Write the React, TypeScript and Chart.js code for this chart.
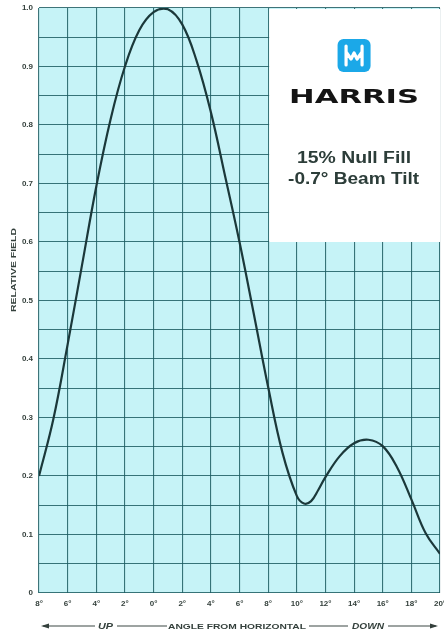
import { useEffect, useRef } from 'react';
import { Chart, registerables } from 'chart.js';

Chart.register(...registerables);

// Angle from horizontal (negative = up, positive = down), degrees
const angles = [-8, -7, -6, -5, -4, -3, -2, -1, 0, 1, 2, 3, 4, 5, 6, 7, 8, 9, 10, 10.5, 11, 11.5, 12, 13, 14, 15, 16, 17, 18, 19, 20];
const relativeField = [0.2, 0.297, 0.425, 0.56, 0.695, 0.81, 0.9, 0.962, 0.993, 0.998, 0.972, 0.91, 0.822, 0.712, 0.6, 0.477, 0.352, 0.24, 0.166, 0.153, 0.157, 0.176, 0.198, 0.234, 0.256, 0.262, 0.251, 0.215, 0.16, 0.102, 0.067];

const xTickValues = [-8, -6, -4, -2, 0, 2, 4, 6, 8, 10, 12, 14, 16, 18, 20];
const xTickLabels = ['8°', '6°', '4°', '2°', '0°', '2°', '4°', '6°', '8°', '10°', '12°', '14°', '16°', '18°', '20°'];
const yTickValues = [0, 0.1, 0.2, 0.3, 0.4, 0.5, 0.6, 0.7, 0.8, 0.9, 1.0];
const yTickLabels = ['0', '0.1', '0.2', '0.3', '0.4', '0.5', '0.6', '0.7', '0.8', '0.9', '1.0'];

const brandName = 'HARRIS';
const captionLines = ['15% Null Fill', '-0.7° Beam Tilt'];
const yTitle = 'RELATIVE FIELD';
const xTitleParts = ['UP', 'ANGLE FROM HORIZONTAL', 'DOWN'];

const PLOT_BG = '#c6f3f7';
const GRID = 'rgba(28, 92, 98, 0.85)';
const TEXT = '#34403c';

function fitText(ctx: CanvasRenderingContext2D, text: string, x: number, y: number, width: number) {
  const w = ctx.measureText(text).width;
  ctx.save();
  ctx.translate(x, y);
  ctx.scale(width / w, 1);
  ctx.textAlign = 'left';
  ctx.fillText(text, 0, 0);
  ctx.restore();
}

const decor = {
  id: 'decor',
  beforeDraw(chart: any) {
    const { ctx, chartArea: a } = chart;
    ctx.save();
    ctx.fillStyle = '#ffffff';
    ctx.fillRect(0, 0, chart.width, chart.height);
    ctx.fillStyle = PLOT_BG;
    ctx.fillRect(a.left, a.top, a.right - a.left, a.bottom - a.top);
    ctx.restore();
  },
  beforeDatasetsDraw(chart: any) {
    const { ctx } = chart;
    const xs = chart.scales.x;
    const ys = chart.scales.y;
    const l = xs.getPixelForValue(8);
    const r = xs.getPixelForValue(20);
    const t = ys.getPixelForValue(1);
    const b = ys.getPixelForValue(0.6);
    ctx.save();
    ctx.fillStyle = '#ffffff';
    ctx.fillRect(l + 1, t + 1, r - l - 1, b - t - 1);
    const cx = (l + r) / 2;

    // logo
    const lt = t + 31;
    const ls = 33;
    ctx.fillStyle = '#1ba8e8';
    ctx.beginPath();
    (ctx as any).roundRect(cx - ls / 2, lt, ls, ls, 6);
    ctx.fill();
    ctx.strokeStyle = '#ffffff';
    ctx.lineWidth = 3.2;
    ctx.lineCap = 'round';
    ctx.lineJoin = 'round';
    ctx.beginPath();
    ctx.moveTo(cx - 8, lt + 7);
    ctx.lineTo(cx - 8, lt + ls - 7);
    ctx.moveTo(cx + 8, lt + 7);
    ctx.lineTo(cx + 8, lt + ls - 7);
    ctx.moveTo(cx - 8, lt + 13);
    ctx.lineTo(cx - 3, lt + 20);
    ctx.lineTo(cx, lt + 14);
    ctx.lineTo(cx + 3, lt + 20);
    ctx.lineTo(cx + 8, lt + 13);
    ctx.stroke();

    // brand
    ctx.fillStyle = '#141414';
    ctx.textBaseline = 'alphabetic';
    ctx.font = '900 19px "DejaVu Sans"';
    fitText(ctx, brandName, cx - 65, t + 95, 130);

    // caption
    ctx.fillStyle = '#2c3d39';
    ctx.font = 'bold 16px "Liberation Sans"';
    fitText(ctx, captionLines[0], cx - 57, t + 155, 114);
    fitText(ctx, captionLines[1], cx - 66, t + 176, 131);
    ctx.restore();
  },
  afterDraw(chart: any) {
    const { ctx } = chart;
    ctx.save();
    ctx.fillStyle = TEXT;
    ctx.strokeStyle = '#3c4844';
    // y title
    ctx.font = 'bold 8px "Liberation Sans"';
    ctx.textBaseline = 'middle';
    ctx.save();
    ctx.translate(14, 312);
    ctx.rotate(-Math.PI / 2);
    fitText(ctx, yTitle, 0, 0, 84);
    ctx.restore();

    // x title
    const yy = 626;
    ctx.lineWidth = 1.2;
    ctx.beginPath();
    ctx.moveTo(43, yy);
    ctx.lineTo(95, yy);
    ctx.moveTo(117, yy);
    ctx.lineTo(167, yy);
    ctx.moveTo(309, yy);
    ctx.lineTo(348, yy);
    ctx.moveTo(388, yy);
    ctx.lineTo(436, yy);
    ctx.stroke();
    ctx.beginPath();
    ctx.moveTo(41, yy);
    ctx.lineTo(49, yy - 2.5);
    ctx.lineTo(49, yy + 2.5);
    ctx.closePath();
    ctx.moveTo(438, yy);
    ctx.lineTo(430, yy - 2.5);
    ctx.lineTo(430, yy + 2.5);
    ctx.closePath();
    ctx.fill();
    ctx.font = 'italic bold 9px "Liberation Sans"';
    fitText(ctx, xTitleParts[0], 98, yy + 0.5, 15);
    fitText(ctx, xTitleParts[2], 352, yy + 0.5, 32);
    ctx.font = 'bold 8px "Liberation Sans"';
    fitText(ctx, xTitleParts[1], 168, yy + 0.5, 138);
    ctx.restore();
  },
};

export default function App() {
  const canvasRef = useRef<HTMLCanvasElement | null>(null);

  useEffect(() => {
    const canvas = canvasRef.current;
    if (!canvas) return;
    const chart = new Chart(canvas, {
      type: 'line',
      data: {
        datasets: [
          {
            data: angles.map((a, i) => ({ x: a, y: relativeField[i] })),
            borderColor: '#1b383a',
            borderWidth: 2.2,
            pointRadius: 0,
            tension: 0.4,
            fill: false,
          },
        ],
      },
      options: {
        animation: false,
        responsive: false,
        maintainAspectRatio: false,
        layout: { padding: { top: 8, right: 4, left: 0, bottom: 0 } },
        plugins: { legend: { display: false }, tooltip: { enabled: false } },
        scales: {
          x: {
            type: 'linear',
            min: -8,
            max: 20,
            afterBuildTicks: (s: any) => {
              s.ticks = xTickValues.map((v) => ({ value: v }));
            },
            afterFit: (s: any) => {
              s.height = 42;
              s.paddingLeft = 0;
              s.paddingRight = 0;
            },
            border: { display: false },
            grid: { color: GRID, lineWidth: 1.1, drawTicks: false },
            ticks: {
              autoSkip: false,
              maxRotation: 0,
              minRotation: 0,
              padding: 6,
              color: TEXT,
              font: { family: 'Liberation Sans', size: 8, weight: 'bold' },
              callback: (v: any) => {
                const i = xTickValues.findIndex((t) => Math.abs(t - Number(v)) < 1e-6);
                return i >= 0 ? xTickLabels[i] : '';
              },
            },
          },
          y: {
            type: 'linear',
            min: 0,
            max: 1,
            afterFit: (s: any) => {
              s.width = 39;
              s.paddingTop = 0;
              s.paddingBottom = 0;
            },
            border: { display: false },
            grid: { color: GRID, lineWidth: 1.1, drawTicks: false },
            ticks: {
              stepSize: 0.05,
              autoSkip: false,
              padding: 6,
              color: TEXT,
              font: { family: 'Liberation Sans', size: 8, weight: 'bold' },
              callback: (v: any) => {
                const i = yTickValues.findIndex((t) => Math.abs(t - Number(v)) < 1e-6);
                return i >= 0 ? yTickLabels[i] : '';
              },
            },
          },
        },
      },
      plugins: [decor],
    } as any);
    return () => chart.destroy();
  }, []);

  return (
    <div style={{ position: 'fixed', left: 0, top: 0, width: 444, height: 635, background: '#fff' }}>
      <canvas ref={canvasRef} width={444} height={635} style={{ display: 'block' }} />
    </div>
  );
}
